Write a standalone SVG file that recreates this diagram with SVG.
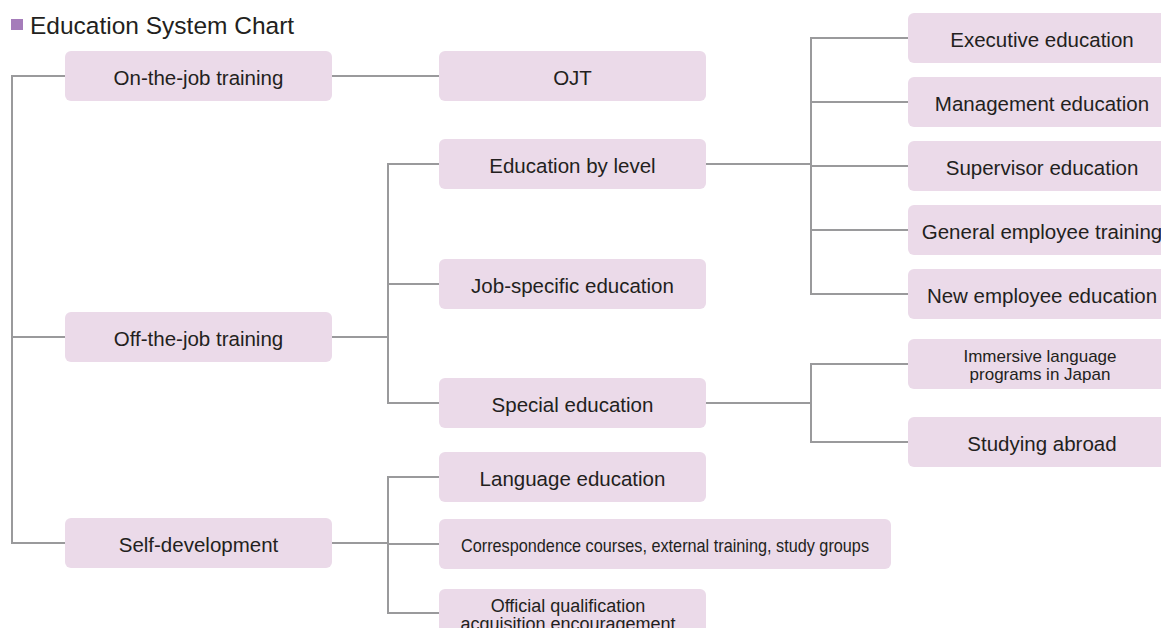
<svg xmlns="http://www.w3.org/2000/svg" width="1161" height="628" viewBox="0 0 1161 628">
<style>
.box{fill:#ebdae9}
.t{font-family:"Liberation Sans",Arial,Helvetica,sans-serif;font-size:20.5px;fill:#231f20;text-anchor:middle}
.s{font-family:"Liberation Sans",Arial,Helvetica,sans-serif;font-size:17px;fill:#231f20;text-anchor:middle}
.c{fill:none;stroke:#9a9a9c;stroke-width:2}
</style>
<rect width="1161" height="628" fill="#ffffff"/>
<g id="title">
<rect x="11" y="19" width="12" height="11" fill="#a57cba"/>
<text x="30" y="34" style="font-family:'Liberation Sans',Arial,Helvetica,sans-serif;font-size:24.5px;fill:#231f20">Education System Chart</text>
</g>
<g id="connectors" class="c">
<polyline points="65,76 12,76 12,543 65,543"/>
<line x1="12" y1="337" x2="65" y2="337"/>
<line x1="332" y1="76" x2="439" y2="76"/>
<line x1="332" y1="337" x2="388" y2="337"/>
<polyline points="439,164 388,164 388,403 439,403"/>
<line x1="388" y1="284" x2="439" y2="284"/>
<line x1="706" y1="164" x2="811" y2="164"/>
<polyline points="908,38 811,38 811,294 908,294"/>
<line x1="811" y1="102" x2="908" y2="102"/>
<line x1="811" y1="166" x2="908" y2="166"/>
<line x1="811" y1="230" x2="908" y2="230"/>
<line x1="706" y1="403" x2="811" y2="403"/>
<polyline points="908,364 811,364 811,442 908,442"/>
<line x1="332" y1="543" x2="388" y2="543"/>
<polyline points="439,477 388,477 388,613 439,613"/>
<line x1="388" y1="544" x2="439" y2="544"/>
</g>
<g id="on-the-job"><rect class="box" x="65" y="51" width="267" height="50" rx="6"/><text class="t" x="198.5" y="85">On-the-job training</text></g>
<g id="off-the-job"><rect class="box" x="65" y="312" width="267" height="50" rx="6"/><text class="t" x="198.5" y="346">Off-the-job training</text></g>
<g id="self-development"><rect class="box" x="65" y="518" width="267" height="50" rx="6"/><text class="t" x="198.5" y="552">Self-development</text></g>
<g id="ojt"><rect class="box" x="439" y="51" width="267" height="50" rx="6"/><text class="t" x="572.5" y="85">OJT</text></g>
<g id="education-by-level"><rect class="box" x="439" y="139" width="267" height="50" rx="6"/><text class="t" x="572.5" y="173">Education by level</text></g>
<g id="job-specific"><rect class="box" x="439" y="259" width="267" height="50" rx="6"/><text class="t" x="572.5" y="293">Job-specific education</text></g>
<g id="special-education"><rect class="box" x="439" y="378" width="267" height="50" rx="6"/><text class="t" x="572.5" y="412">Special education</text></g>
<g id="language-education"><rect class="box" x="439" y="452" width="267" height="50" rx="6"/><text class="t" x="572.5" y="486">Language education</text></g>
<g id="correspondence"><rect class="box" x="439" y="519" width="452" height="50" rx="6"/><text class="t" x="665" y="552" style="font-size:18.5px" textLength="408" lengthAdjust="spacingAndGlyphs">Correspondence courses, external training, study groups</text></g>
<g id="official-qualification"><rect class="box" x="439" y="589" width="267" height="50" rx="6"/><text class="s" x="568" y="611.5" style="font-size:18px">Official qualification</text><text class="s" x="568" y="630" style="font-size:18px">acquisition encouragement</text></g>
<g id="executive"><rect class="box" x="908" y="13" width="267" height="50" rx="6"/><text class="t" x="1042" y="47">Executive education</text></g>
<g id="management"><rect class="box" x="908" y="77" width="267" height="50" rx="6"/><text class="t" x="1042" y="111">Management education</text></g>
<g id="supervisor"><rect class="box" x="908" y="141" width="267" height="50" rx="6"/><text class="t" x="1042" y="175">Supervisor education</text></g>
<g id="general-employee"><rect class="box" x="908" y="205" width="267" height="50" rx="6"/><text class="t" x="1042" y="239">General employee training</text></g>
<g id="new-employee"><rect class="box" x="908" y="269" width="267" height="50" rx="6"/><text class="t" x="1042" y="303">New employee education</text></g>
<g id="immersive"><rect class="box" x="908" y="339" width="267" height="50" rx="6"/><text class="s" x="1040" y="361.5">Immersive language</text><text class="s" x="1040" y="380">programs in Japan</text></g>
<g id="studying-abroad"><rect class="box" x="908" y="417" width="267" height="50" rx="6"/><text class="t" x="1042" y="451">Studying abroad</text></g>
</svg>
